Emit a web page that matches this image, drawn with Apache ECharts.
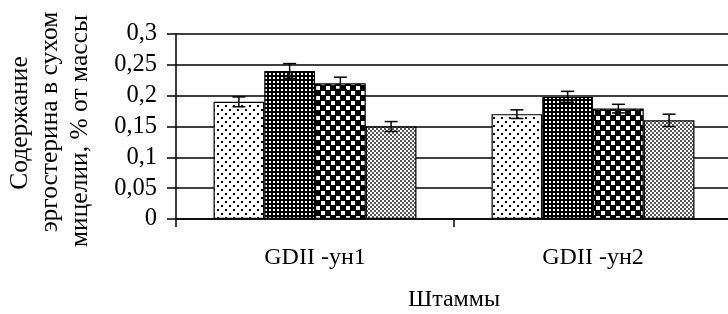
<!DOCTYPE html>
<html><head><meta charset="utf-8">
<script src="https://cdn.jsdelivr.net/npm/echarts@6/dist/echarts.min.js"></script>
<style>html,body{margin:0;padding:0;background:#fff}#c{width:728px;height:314px}</style>
</head><body><div id="c"></div>
<script>
var categories = ['GDII -ун1', 'GDII -ун2'];
var series1 = [0.19, 0.17];
var series2 = [0.24, 0.198];
var series3 = [0.22, 0.179];
var series4 = [0.15, 0.16];
var err1 = [0.008, 0.007];
var err2 = [0.012, 0.009];
var err3 = [0.01, 0.007];
var err4 = [0.008, 0.01];
var yTicks = [0, 0.05, 0.1, 0.15, 0.2, 0.25, 0.3];
var yTitle = ['Содержание', 'эргостерина в сухом', 'мицелии, % от массы'];
var xTitle = 'Штаммы';

function makePattern(w, h, bg, fg, rects) {
  var c = document.createElement('canvas');
  c.width = w; c.height = h;
  var g = c.getContext('2d');
  g.fillStyle = bg; g.fillRect(0, 0, w, h);
  g.fillStyle = fg;
  rects.forEach(function (r) { g.fillRect(r[0], r[1], r[2], r[3]); });
  return { image: c, repeat: 'repeat' };
}
var patterns = [
  makePattern(8, 8, '#fff', '#000', [[1, 1, 2, 2], [5, 5, 2, 2]]),
  makePattern(4, 4, '#000', '#fff', [[1, 1, 2, 2]]),
  makePattern(10, 10, '#000', '#fff', [[1, 1, 4, 4], [6, 6, 4, 4]]),
  makePattern(4, 4, '#fff', '#555', [[0, 0, 2, 2], [2, 2, 2, 2]])
];
var values = [series1, series2, series3, series4];
var errs = [err1, err2, err3, err4];
var GAP = 0.27;
var FONT = 'Liberation Serif';

var series = [];
values.forEach(function (v, i) {
  series.push({
    type: 'bar', data: v, barGap: 0, barCategoryGap: (GAP * 100) + '%',
    itemStyle: { color: patterns[i], borderColor: '#000', borderWidth: 1.2 },
    z: 2
  });
});
values.forEach(function (v, i) {
  series.push({
    type: 'custom', z: 5,
    data: v.map(function (val, k) { return [k, val, errs[i][k]]; }),
    renderItem: function (params, api) {
      var cat = api.value(0), val = api.value(1), e = api.value(2);
      var catW = api.size([1, 0])[0];
      var bw = catW * (1 - GAP) / 4;
      var top = api.coord([cat, val + e]);
      var bot = api.coord([cat, val - e]);
      var x = top[0] + (i - 1.5) * bw;
      var hw = 6.5;
      var st = { stroke: '#000', lineWidth: 1.5 };
      return { type: 'group', children: [
        { type: 'line', shape: { x1: x, y1: top[1], x2: x, y2: bot[1] }, style: st },
        { type: 'line', shape: { x1: x - hw, y1: top[1], x2: x + hw, y2: top[1] }, style: st },
        { type: 'line', shape: { x1: x - hw, y1: bot[1], x2: x + hw, y2: bot[1] }, style: st }
      ] };
    }
  });
});

var chart = echarts.init(document.getElementById('c'), null, { renderer: 'canvas' });
chart.setOption({
  animation: false,
  backgroundColor: '#fff',
  textStyle: { fontFamily: FONT, color: '#000' },
  grid: { left: 176, top: 34, width: 556, height: 185, containLabel: false, outerBoundsMode: 'none' },
  xAxis: {
    type: 'category', data: categories,
    name: xTitle, nameLocation: 'middle', nameGap: 69,
    nameTextStyle: { fontFamily: FONT, fontSize: 24, color: '#000' },
    axisLine: { lineStyle: { color: '#000', width: 1.5 } },
    axisTick: { show: true, length: 8, lineStyle: { color: '#000', width: 1.5 } },
    axisLabel: { fontFamily: FONT, fontSize: 24, color: '#000', margin: 27 }
  },
  yAxis: {
    type: 'value', min: 0, max: 0.3, interval: 0.05,
    axisLine: { show: true, lineStyle: { color: '#000', width: 1.5 } },
    axisTick: { show: true, length: 9, lineStyle: { color: '#000', width: 1.5 } },
    splitLine: { show: true, lineStyle: { color: '#000', width: 1.5 } },
    axisLabel: {
      fontFamily: FONT, fontSize: 24.5, color: '#000', margin: 19,
      formatter: function (v) {
        var t = yTicks.reduce(function (a, b) { return Math.abs(b - v) < Math.abs(a - v) ? b : a; });
        return String(t).replace('.', ',');
      }
    }
  },
  graphic: yTitle.map(function (t, k) {
    return {
      type: 'text', x: [20, 50, 80][k], y: [123, 122, 131][k], rotation: Math.PI / 2,
      style: { text: t, fontFamily: FONT, fontSize: 25.5, fill: '#000', align: 'center', verticalAlign: 'middle' }
    };
  }),
  series: series
});
</script></body></html>
